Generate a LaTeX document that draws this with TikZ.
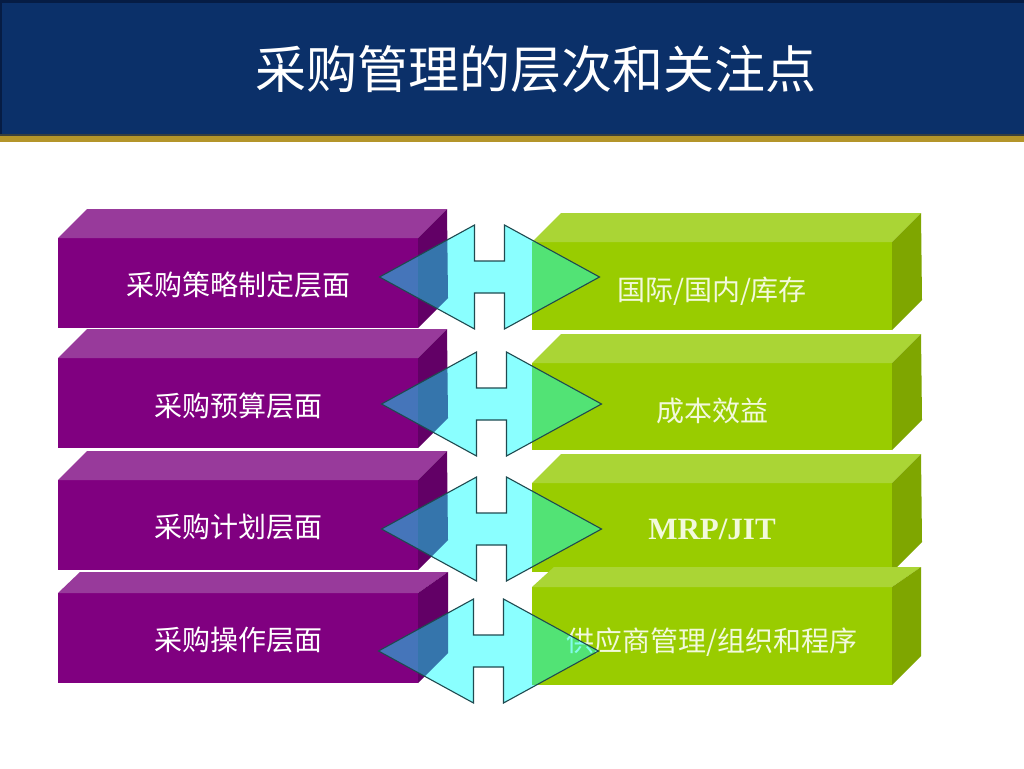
\documentclass[tikz,border=0pt]{standalone}
\usepackage{fontspec}
\setmainfont{Liberation Serif}
\newfontfamily\cjk{Noto Sans CJK SC}
\usetikzlibrary{calc}
\definecolor{hdrblue}{HTML}{0B3069}
\definecolor{hdrdark}{HTML}{061C44}
\definecolor{hdrgold}{HTML}{B4952A}
\definecolor{pfrontc}{HTML}{800080}
\definecolor{ptopc}{HTML}{983A9B}
\definecolor{psidec}{HTML}{620066}
\definecolor{gfrontc}{HTML}{99CC00}
\definecolor{gtopc}{HTML}{AAD535}
\definecolor{gsidec}{HTML}{7FA600}
\definecolor{gtext}{HTML}{F2F9DC}
\definecolor{arrline}{HTML}{1F4A50}
\definecolor{arrfill}{RGB}{0,255,255}
\tikzset{
  pfront/.style={fill=pfrontc, minimum width=360, minimum height=90, inner sep=0, outer sep=0,
    text=white, font=\cjk\fontsize{28}{32}\selectfont},
  gfront/.style={fill=gfrontc, minimum width=360, minimum height=88, inner sep=0, outer sep=0,
    text=gtext, font=\cjk\fontsize{28}{32}\selectfont},
  ptop/.style={fill=ptopc},
  pside/.style={fill=psidec},
  gtop/.style={fill=gtopc},
  gside/.style={fill=gsidec},
  dbl/.style={fill=arrfill, fill opacity=0.46, draw=arrline, line width=1.1pt, line join=miter},
}
% 3D box: #1 node name, #2 depth, #3 top style, #4 side style
\newcommand{\boxfaces}[4]{%
  \fill[#3] (#1.north west) -- ++(#2,-#2) -- ($(#1.north east)+(#2,-#2)$) -- (#1.north east) -- cycle;
  \fill[#4] (#1.north east) -- ++(#2,-#2) -- ($(#1.south east)+(30,-30)$) -- (#1.south east) -- cycle;
}
% double arrow centred at named coordinate #1
\newcommand{\dblarrow}[1]{%
  \draw[dbl] ($(#1)+(-110,0)$) -- ($(#1)+(-15,-52)$) -- ($(#1)+(-15,-16)$) -- ($(#1)+(15,-16)$)
    -- ($(#1)+(15,-52)$) -- ($(#1)+(110,0)$) -- ($(#1)+(15,52)$) -- ($(#1)+(15,16)$)
    -- ($(#1)+(-15,16)$) -- ($(#1)+(-15,52)$) -- cycle;
}
\newcommand{\lowered}[2]{\raisebox{-#1pt}[\height][\depth]{#2}}
\begin{document}
\begin{tikzpicture}[x=1pt,y=-1pt]
\useasboundingbox (0,0) rectangle (1024,768);
\fill[white] (0,0) rectangle (1024,768);
% header
\fill[hdrblue] (0,0) rectangle (1024,135);
\fill[hdrdark] (0,0) rectangle (1024,3);
\fill[hdrdark] (0,0) rectangle (2,135);
\fill[hdrdark!70!hdrgold] (0,134) rectangle (1024,136);
\fill[hdrgold] (0,136) rectangle (1024,142);
\node[text=white, font=\cjk\fontsize{51}{57}\selectfont, inner sep=0] (title) at (536,69) {采购管理的层次和关注点};

% purple boxes
\node[pfront] (p1) at (238,283) {\lowered{2}{采购策略制定层面}};
\boxfaces{p1}{29}{ptop}{pside}
\node[pfront] (p2) at (238,403) {\lowered{3}{采购预算层面}};
\boxfaces{p2}{29}{ptop}{pside}
\node[pfront] (p3) at (238,525) {\lowered{2}{采购计划层面}};
\boxfaces{p3}{29}{ptop}{pside}
\node[pfront, minimum height=90] (p4) at (238,638) {\lowered{2}{采购操作层面}};
\fill[ptop] (p4.north west) -- ++(22,-21) -- ($(p4.north east)+(30,-21)$) -- (p4.north east) -- cycle;
\fill[pside] (p4.north east) -- ++(30,-21) -- ($(p4.south east)+(30,-30)$) -- (p4.south east) -- cycle;

% green boxes
\node[gfront] (g1) at (712,286) {\lowered{5}{国际/国内/库存}};
\boxfaces{g1}{29}{gtop}{gside}
\node[gfront, minimum height=87] (g2) at (712,406.5) {\lowered{4}{成本效益}};
\boxfaces{g2}{29}{gtop}{gside}
\node[gfront, minimum height=89] (g3) at (712,527.5) {\lowered{2}{\bfseries\rmfamily\fontsize{31}{34}\selectfont MRP/JIT}};
\boxfaces{g3}{29}{gtop}{gside}
\node[gfront, minimum height=98] (g4) at (712,636) {\lowered{6}{供应商管理/组织和程序}};
\fill[gtop] (g4.north west) -- ++(22,-20) -- ($(g4.north east)+(29,-20)$) -- (g4.north east) -- cycle;
\fill[gside] (g4.north east) -- ++(29,-20) -- ($(g4.south east)+(29,-29)$) -- (g4.south east) -- cycle;

% double arrows
\coordinate (a1) at (489.5,277);
\coordinate (a2) at (491.5,404);
\coordinate (a3) at (491.5,529);
\coordinate (a4) at (488.5,651);
\dblarrow{a1}
\dblarrow{a2}
\dblarrow{a3}
\dblarrow{a4}
\end{tikzpicture}
\end{document}
